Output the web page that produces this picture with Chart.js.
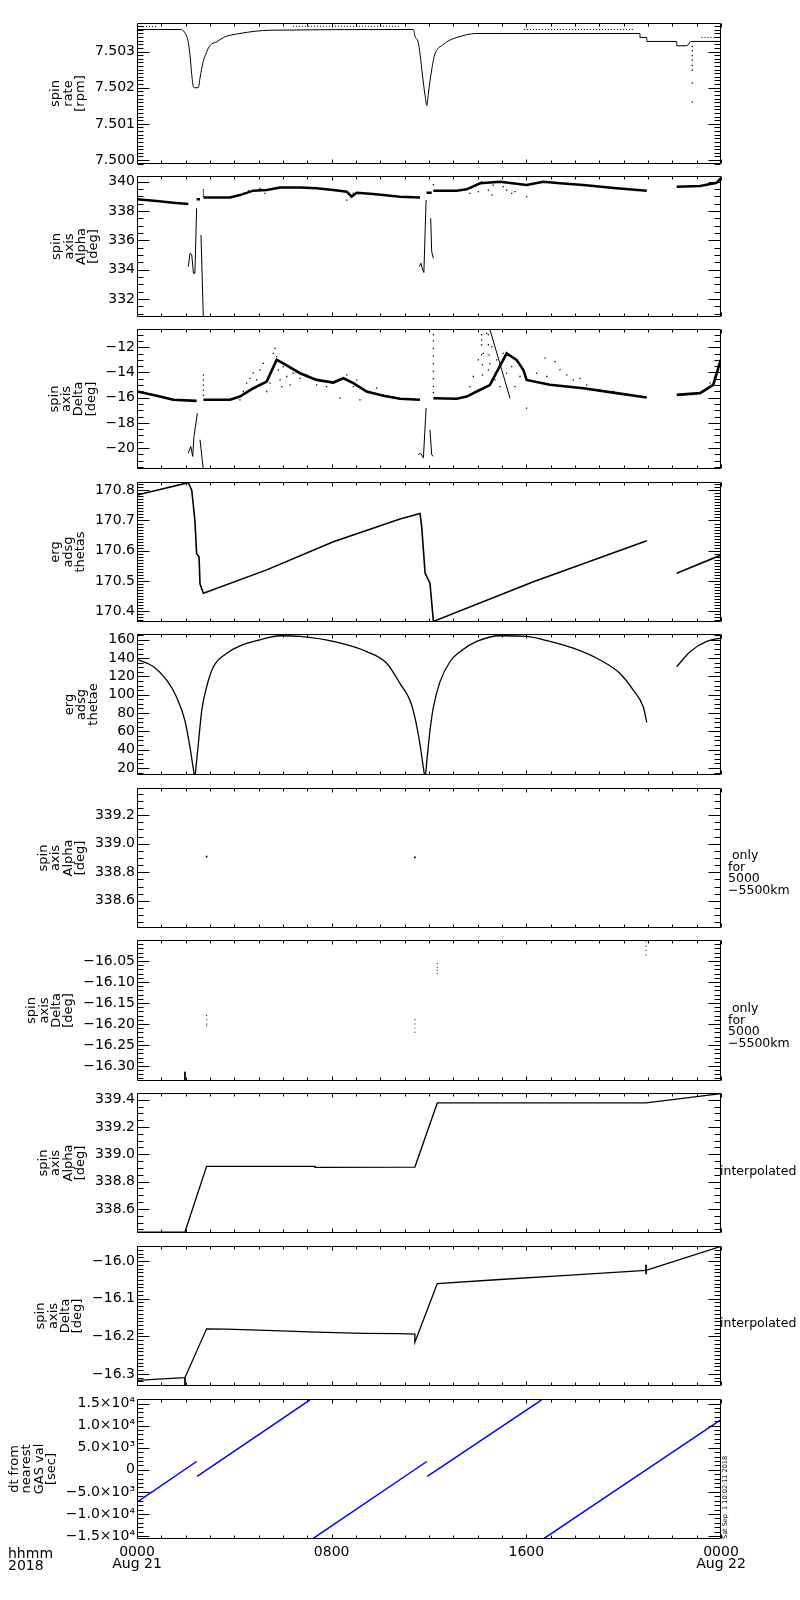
<!DOCTYPE html>
<html>
<head>
<meta charset="utf-8">
<script src="https://cdn.jsdelivr.net/npm/chart.js@4/dist/chart.umd.min.js"></script>
<style>
  body { margin: 0; background: #fff; width: 800px; height: 1600px; position: relative; overflow: hidden; font-family: "DejaVu Sans", sans-serif; color: #000; }
  canvas { position: absolute; left: 0; }
  .note { position: absolute; font-size: 12.5px; line-height: 11.6px; white-space: pre; }
  .stamp { position: absolute; font-size: 6.5px; line-height: 7px; white-space: pre; transform: rotate(-90deg); transform-origin: 0 0; }
</style>
</head>
<body>
<script>
// ---- time axis (hours from 0000 Aug 21) ----
const hourTicks = [0, 8, 16, 24];
const hourLabels = [["0000", "Aug 21"], ["0800"], ["1600"], ["0000", "Aug 22"]];

// ---- y tick values ----
const rateTicks = [7.500, 7.501, 7.502, 7.503];
const alphaTicks = [332, 334, 336, 338, 340];
const deltaTicks = [-20, -18, -16, -14, -12];
const thetasTicks = [170.4, 170.5, 170.6, 170.7, 170.8];
const thetaeTicks = [20, 40, 60, 80, 100, 120, 140, 160];
const alphaOnlyTicks = [338.6, 338.8, 339.0, 339.2];
const deltaOnlyTicks = [-16.30, -16.25, -16.20, -16.15, -16.10, -16.05];
const alphaInterpTicks = [338.6, 338.8, 339.0, 339.2, 339.4];
const deltaInterpTicks = [-16.3, -16.2, -16.1, -16.0];
const dtTicks = [-15000, -10000, -5000, 0, 5000, 10000, 15000];
const dtTickLabels = ["\u22121.5\u00d710\u2074", "\u22121.0\u00d710\u2074", "\u22125.0\u00d710\u00b3", "0", "5.0\u00d710\u00b3", "1.0\u00d710\u2074", "1.5\u00d710\u2074"];

// ---- spin rate [rpm] ----
const rateMain = [[0,7.50361],[1.77,7.50361],[1.97,7.50352],[2.11,7.50325],[2.18,7.50289],[2.25,7.50236],[2.31,7.50205],[2.38,7.50200],[2.52,7.50200],[2.59,7.50227],[2.72,7.50272],[2.86,7.50298],[2.93,7.50309],[3.07,7.50321],[3.28,7.50327],[3.55,7.50339],[4.23,7.50350],[5.47,7.50359],[10.81,7.50361],[11.36,7.50361],[11.42,7.50343],[11.56,7.50325],[11.63,7.50294],[11.70,7.50254],[11.77,7.50213],[11.84,7.50178],[11.91,7.50151],[11.97,7.50182],[12.04,7.50218],[12.11,7.50249],[12.18,7.50276],[12.25,7.50294],[12.38,7.50309],[12.52,7.50316],[12.73,7.50327],[13.14,7.50339],[13.96,7.50350],[20.67,7.50350],[20.67,7.50339],[20.95,7.50339],[20.95,7.50328],[22.18,7.50328],[22.18,7.50316],[22.6,7.50316],[22.75,7.50328],[24,7.50328]];
const rateUpper = [[0,7.50369],[0.8,7.50369],null,[6.41,7.50370],[10.8,7.50370],null,[15.9,7.50361],[20.4,7.50361],null,[23.2,7.50339],[24,7.50339]];
const rateSpike = [[22.82,7.50314],[22.82,7.50302],[22.82,7.50289],[22.82,7.50276],[22.82,7.50262],[22.82,7.50249],[22.82,7.50213],[22.82,7.50160]];

// ---- spin axis Alpha [deg] ----
const alphaMain = [[0,338.80],[0.81,338.68],[1.49,338.57],[2.11,338.48],null,[2.45,338.80],[2.59,338.80],null,[2.73,338.93],[3.82,338.93],[4.23,339.09],[4.78,339.39],[5.33,339.43],[5.88,339.61],[6.70,339.61],[7.38,339.55],[8.07,339.43],[8.62,339.32],[8.82,338.98],[9.03,339.25],[9.71,339.16],[10.81,338.98],[11.63,338.93],null,[11.90,339.25],[12.11,339.25],null,[12.18,339.39],[13.14,339.39],[13.55,339.48],[14.10,339.89],[14.92,340.0],[16.01,339.77],[16.7,340.0],[17.38,339.89],[18.34,339.77],[19.71,339.55],[20.95,339.39],null,[22.18,339.66],[23.14,339.71],[23.82,339.93],[23.99,340.23]];
const alphaDip = [[2.11,334.22],[2.18,335.12],[2.25,335.01],[2.32,333.76],[2.38,333.76],[2.45,338.19],null,[2.63,336.37],[2.73,330.5],null,[11.60,334.22],[11.67,334.44],[11.74,333.99],[11.79,333.81],[11.88,338.75],null,[12.07,337.51],[12.11,335.24],[12.18,334.78]];
const alphaDots = [[2.73,339.0],[2.73,339.15],[2.73,339.3],[2.73,339.45],[12.18,339.8],[13.68,339.21],[13.89,339.66],[14.03,339.32],[14.16,340.0],[14.44,339.43],[14.58,339.09],[14.64,339.77],[15.05,339.66],[15.19,339.43],[15.40,339.21],[15.53,339.32],[16.01,338.98],[4.37,339.21],[4.58,339.39],[5.05,339.55],[5.26,339.21],[8.62,338.75],[8.89,339.21]];

// ---- spin axis Delta [deg] ----
const deltaMain = [[0,-15.51],[0.81,-15.85],[1.49,-16.17],[2.45,-16.25],null,[2.73,-16.17],[3.82,-16.17],[4.23,-15.91],[4.78,-15.25],[5.33,-14.72],[5.74,-13.0],[6.01,-13.27],[6.70,-14.06],[7.38,-14.59],[8.07,-14.80],[8.48,-14.46],[8.89,-14.85],[9.44,-15.51],[10.12,-15.85],[10.81,-16.09],[11.63,-16.17],null,[12.18,-16.04],[13.14,-16.09],[13.55,-15.91],[13.96,-15.51],[14.5,-15.0],[15.19,-12.48],[15.60,-13.0],[15.88,-13.80],[16.01,-14.59],[16.97,-14.98],[18.34,-15.25],[19.71,-15.64],[20.95,-15.99],null,[22.18,-15.78],[23.14,-15.64],[23.68,-14.98],[23.99,-13.0]];
const deltaStreak = [[14.51,-10.63],[15.33,-16.04]];
const deltaDip = [[2.11,-20.40],[2.21,-19.87],[2.29,-20.66],[2.34,-19.08],[2.48,-17.23],null,[2.59,-19.34],[2.73,-21.8],null,[11.56,-20.53],[11.66,-20.40],[11.77,-20.79],[11.88,-16.83],null,[12.04,-18.55],[12.11,-20.53],[12.18,-20.66]];
const deltaDots = [[2.73,-14.2],[2.73,-14.6],[2.73,-15.0],[2.73,-15.4],[2.73,-15.8],[12.18,-11.0],[12.18,-11.5],[12.18,-12.1],[12.18,-12.7],[12.18,-13.3],[12.18,-13.9],[12.18,-14.5],[12.18,-15.1],[12.18,-15.6],
  [4.23,-16.17],[4.37,-15.51],[4.51,-14.85],[4.64,-14.46],[4.78,-14.06],[4.85,-15.25],[4.92,-14.59],[5.05,-13.80],[5.19,-13.27],[5.33,-15.51],[5.47,-14.85],[5.60,-12.48],[5.67,-12.08],[5.74,-12.74],[5.81,-13.80],[5.88,-14.59],[5.95,-15.12],[6.01,-13.53],[6.15,-14.32],[6.29,-14.98],[6.42,-14.06],[6.70,-14.46],[6.97,-14.19],[7.38,-14.98],[7.79,-15.12],[8.07,-14.85],[8.34,-16.04],[8.62,-14.19],[8.89,-15.12],[9.03,-14.59],[9.16,-16.17],[9.44,-15.51],[9.85,-15.25],[10.12,-15.78],[10.53,-15.91],
  [13.68,-15.12],[13.82,-14.32],[14.03,-13.0],[14.16,-11.42],[14.23,-12.48],[14.30,-15.12],[14.37,-10.89],[14.44,-13.80],[14.58,-11.95],[14.71,-14.59],[14.78,-13.0],[14.92,-15.12],[15.05,-12.48],[15.19,-14.06],[15.40,-13.53],[15.53,-15.12],[15.74,-14.32],[16.01,-16.83],[16.42,-14.06],[16.77,-12.87],[16.84,-14.32],[17.18,-13.14],[17.38,-13.80],[17.66,-14.19],[17.93,-14.59],[18.21,-14.46],[18.48,-14.98],[19.03,-15.38],[19.58,-15.51],[23.55,-14.85],[23.75,-14.32],[23.89,-13.53],
  [14.16,-11.0],[14.16,-11.8],[14.16,-12.6],[14.2,-13.4],[14.2,-14.2],[14.44,-11.0],[14.44,-11.8],[14.47,-12.6],[14.5,-13.3]];

// ---- erg adsg thetas ----
const thetasMain = [[0,170.784],[2.11,170.825],[2.25,170.80],[2.38,170.70],[2.45,170.59],[2.55,170.58],[2.59,170.49],[2.73,170.46],[5.33,170.537],[8.07,170.63],[10.81,170.705],[11.63,170.723],[11.70,170.679],[11.84,170.526],[11.91,170.515],[12.04,170.493],[12.18,170.367],[16.29,170.498],[20.95,170.633],null,[22.18,170.526],[24,170.586]];

// ---- erg adsg thetae ----
const thetaeMain = [[0,138.7],[0.68,130.5],[1.22,115.8],[1.63,97.3],[1.97,71.6],[2.18,42.1],[2.31,20.0],[2.38,10],[2.42,20],[2.52,45.9],[2.66,82.7],[2.86,108.4],[3.14,130.5],[3.69,145.3],[4.23,153.4],[5.05,160],[5.88,164.4],[6.70,163.7],[8.07,158.2],[9.44,147.1],[10.26,134.3],[10.81,112.2],[11.22,93.7],[11.42,75.3],[11.63,45.9],[11.77,20],[11.84,10],[11.91,27.4],[12.04,60.6],[12.18,86.3],[12.45,114],[12.86,136],[13.27,147],[13.96,158.2],[14.92,164.4],[16.02,163.7],[16.97,158.2],[17.93,150.8],[19.03,137.9],[19.85,123.2],[20.40,104.8],[20.81,86.3],[20.95,69.7],null,[22.18,130.5],[22.73,147],[23.41,158.2],[23.99,161.9]];

// ---- Alpha / Delta only for 5000-5500km ----
const alphaOnlyDots = [[2.86,338.91],[11.42,338.905],[20.92,339.385]];
const deltaOnlyDots = [[2.86,-16.18],[2.86,-16.19],[2.86,-16.20],[2.86,-16.205],[11.42,-16.19],[11.42,-16.20],[11.42,-16.21],[11.42,-16.22],[12.34,-16.056],[12.34,-16.065],[12.34,-16.072],[12.34,-16.079],[20.92,-16.005],[20.92,-16.015],[20.92,-16.025],[20.92,-16.036]];
const deltaOnlyBar = [[1.97,-16.314],[1.97,-16.34]];

// ---- interpolated ----
const alphaInterp = [[0,338.431],[1.97,338.431],[2.86,338.912],[7.32,338.912],[7.32,338.905],[11.42,338.907],[12.34,339.376],[20.92,339.376],[24,339.444]];
const deltaInterp = [[0,-16.317],[0.88,-16.314],[1.97,-16.310],[2.86,-16.18],[3.68,-16.181],[5.6,-16.185],[7.38,-16.189],[9.3,-16.192],[10.81,-16.193],[11.42,-16.194],[11.42,-16.216],[12.34,-16.06],[14.92,-16.049],[17.66,-16.038],[20.92,-16.025],[24,-15.961]];
const deltaInterpBar = [[1.97,-16.310],[1.97,-16.34],null,[20.92,-16.01],[20.92,-16.035]];

// ---- dt from nearest GAS val [sec] ----
const dtMain = [[0,-7330],[2.45,1880],null,[2.47,-1510],[7.11,15840],null,[7.18,-15770],[11.91,1880],null,[11.93,-1510],[16.63,15840],null,[16.67,-15770],[24,11380]];

// ------------------------------------------------------------
const LEFT = 137, RIGHT = 721;
Chart.defaults.font.family = '"DejaVu Sans", sans-serif';
Chart.defaults.color = '#000';

function toPts(arr) { return arr.map(p => p ? { x: p[0], y: p[1] } : { x: null, y: null }); }
function lineSet(arr, w, color, dash, smooth) {
  return { data: toPts(arr), showLine: true, borderColor: color || '#000', borderWidth: w || 1,
           pointRadius: 0, borderDash: dash || [], spanGaps: false,
           cubicInterpolationMode: smooth ? 'monotone' : 'default' };
}
function dotSet(arr, r) {
  return { data: toPts(arr), showLine: false, pointRadius: r || 0.9, pointStyle: 'rect',
           backgroundColor: '#000', borderWidth: 0 };
}
function fmt(d) { return v => v.toFixed(d).replace('-', '\u2212'); }

const panels = [
  { top: 23, bottom: 164, min: 7.49989, max: 7.50379, ticks: rateTicks, labels: rateTicks.map(fmt(3)), minor: 0.0001,
    title: ['spin', 'rate', '[rpm]'],
    sets: [lineSet(rateMain, 1, '#000', [], true), lineSet(rateUpper, 1, '#000', [1, 2]), dotSet(rateSpike)] },
  { top: 176, bottom: 317, min: 330.78, max: 340.39, ticks: alphaTicks, labels: alphaTicks.map(fmt(0)), minor: 0.5,
    title: ['spin', 'axis', 'Alpha', '[deg]'],
    sets: [lineSet(alphaMain, 2.5), lineSet(alphaDip), dotSet(alphaDots)] },
  { top: 329, bottom: 469, min: -21.66, max: -10.55, ticks: deltaTicks, labels: deltaTicks.map(fmt(0)), minor: 0.5,
    title: ['spin', 'axis', 'Delta', '[deg]'],
    sets: [lineSet(deltaMain, 2.6), lineSet(deltaStreak), lineSet(deltaDip), dotSet(deltaDots)] },
  { top: 482, bottom: 622, min: 170.365, max: 170.827, ticks: thetasTicks, labels: thetasTicks.map(fmt(1)), minor: 0.01,
    title: ['erg', 'adsg', 'thetas'],
    sets: [lineSet(thetasMain, 1.6)] },
  { top: 634, bottom: 775, min: 12.3, max: 166.3, ticks: thetaeTicks, labels: thetaeTicks.map(fmt(0)), minor: 5,
    title: ['erg', 'adsg', 'thetae'],
    sets: [lineSet(thetaeMain, 1.3, '#000', [], true)] },
  { top: 788, bottom: 928, min: 338.41, max: 339.39, ticks: alphaOnlyTicks, labels: alphaOnlyTicks.map(fmt(1)), minor: 0.05,
    title: ['spin', 'axis', 'Alpha', '[deg]'],
    sets: [dotSet(alphaOnlyDots, 1.2)] },
  { top: 940, bottom: 1081, min: -16.336, max: -16.0, ticks: deltaOnlyTicks, labels: deltaOnlyTicks.map(fmt(2)), minor: 0.01,
    title: ['spin', 'axis', 'Delta', '[deg]'],
    sets: [dotSet(deltaOnlyDots, 0.7), lineSet(deltaOnlyBar)] },
  { top: 1093, bottom: 1233, min: 338.424, max: 339.449, ticks: alphaInterpTicks, labels: alphaInterpTicks.map(fmt(1)), minor: 0.05,
    title: ['spin', 'axis', 'Alpha', '[deg]'],
    sets: [lineSet(alphaInterp, 1.3)] },
  { top: 1246, bottom: 1386, min: -16.332, max: -15.96, ticks: deltaInterpTicks, labels: deltaInterpTicks.map(fmt(1)), minor: 0.01,
    title: ['spin', 'axis', 'Delta', '[deg]'],
    sets: [lineSet(deltaInterp, 1.3), lineSet(deltaInterpBar)] },
  { top: 1399, bottom: 1539, min: -15680, max: 16040, ticks: dtTicks, labels: dtTickLabels, minor: 1000,
    title: ['dt from', 'nearest', 'GAS val', '[sec]'],
    sets: [lineSet(dtMain, 1.5, '#0000ff')] }
];

// IDL-style frame with inward ticks on all four sides
const framePlugin = {
  id: 'frame',
  afterDraw(chart, args, o) {
    const { ctx, chartArea: a } = chart;
    const x = chart.scales.x, y = chart.scales.y;
    const L = Math.round(a.left) + 0.5, R = Math.round(a.right) - 0.5;
    const T = Math.round(a.top) + 0.5, B = Math.round(a.bottom) - 0.5;
    ctx.save();
    ctx.strokeStyle = '#000';
    ctx.lineWidth = 1;
    ctx.beginPath();
    ctx.rect(L, T, R - L, B - T);
    for (let hr = 0; hr <= 24; hr++) {
      const px = Math.round(x.getPixelForValue(hr)) + 0.5;
      const len = hr % 8 === 0 ? 4 : 3;
      ctx.moveTo(px, T); ctx.lineTo(px, T + len);
      ctx.moveTo(px, B); ctx.lineTo(px, B - len);
    }
    const step = o.minor;
    for (let k = Math.ceil(y.min / step - 1e-6); k * step <= y.max + 1e-9; k++) {
      const py = Math.round(y.getPixelForValue(k * step)) + 0.5;
      ctx.moveTo(L, py); ctx.lineTo(L + 6, py);
      ctx.moveTo(R, py); ctx.lineTo(R - 6, py);
    }
    y.ticks.forEach(t => {
      const py = Math.round(y.getPixelForValue(t.value)) + 0.5;
      ctx.moveTo(L, py); ctx.lineTo(L + 12, py);
      ctx.moveTo(R, py); ctx.lineTo(R - 12, py);
    });
    ctx.stroke();
    ctx.restore();
  }
};

panels.forEach((p, i) => {
  const last = i === panels.length - 1;
  const padT = 16, padB = last ? 50 : 16;
  const ph = p.bottom - p.top;
  const cv = document.createElement('canvas');
  cv.width = 800;
  cv.height = ph + padT + padB;
  cv.style.top = (p.top - padT) + 'px';
  document.body.appendChild(cv);

  const pad = { left: 40, right: 800 - RIGHT, top: padT, bottom: padB };
  const chart = new Chart(cv, {
    type: 'scatter',
    data: { datasets: p.sets },
    options: {
      responsive: false,
      animation: false,
      devicePixelRatio: 1,
      events: [],
      layout: { padding: pad },
      plugins: { legend: { display: false }, tooltip: { enabled: false }, frame: { minor: p.minor } },
      scales: {
        x: {
          type: 'linear', min: 0, max: 24, display: last,
          grid: { display: false, drawTicks: false }, border: { display: false },
          afterBuildTicks: s => { s.ticks = hourTicks.map(v => ({ value: v })); },
          ticks: { callback: (v, idx) => hourLabels[idx], font: { size: 14, lineHeight: 0.86 },
                   padding: 7, maxRotation: 0, autoSkip: false }
        },
        y: {
          type: 'linear', min: p.min, max: p.max,
          grid: { display: false, drawTicks: false }, border: { display: false },
          afterBuildTicks: s => { s.ticks = p.ticks.map(v => ({ value: v })); },
          ticks: { callback: (v, idx) => p.labels[idx], font: { size: 14 }, padding: 2, autoSkip: false },
          title: { display: true, text: p.title, font: { size: 13, lineHeight: 0.95 }, padding: { top: 0, bottom: 6 } }
        }
      }
    },
    plugins: [framePlugin]
  });

  // pin the plot box to the reference position
  for (let k = 0; k < 2; k++) {
    const a = chart.chartArea;
    pad.left += LEFT - a.left;
    pad.right += a.right - RIGHT;
    pad.top += padT - a.top;
    pad.bottom += a.bottom - (padT + ph);
    chart.update();
  }
});

// side notes
function note(text, left, top, cls) {
  const d = document.createElement('div');
  d.className = cls || 'note';
  d.textContent = text;
  d.style.left = left + 'px';
  d.style.top = top + 'px';
  document.body.appendChild(d);
  return d;
}
note(' only\nfor\n5000\n\u22125500km', 728, 849);
note(' only\nfor\n5000\n\u22125500km', 728, 1002);
note('interpolated', 720, 1165);
note('interpolated', 720, 1317);
const yearNote = note('hhmm\n2018', 8, 1547);
yearNote.style.fontSize = '14px';
yearNote.style.lineHeight = '12px';
note('Sat Sep  1 10:02:11 2018', 722, 1539, 'stamp');
</script>
</body>
</html>
